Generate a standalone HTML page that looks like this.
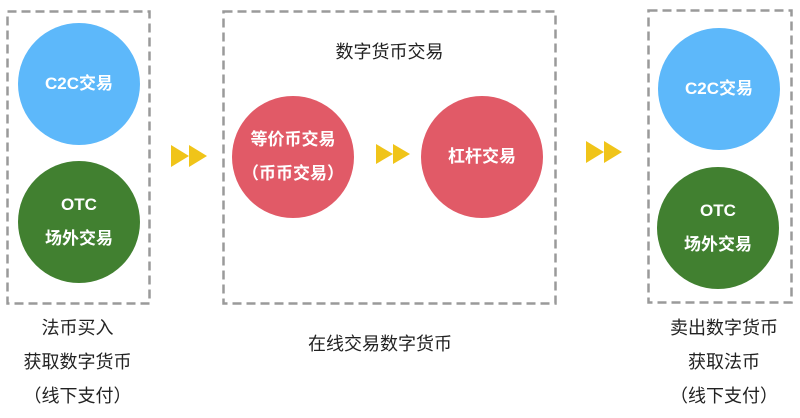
<!DOCTYPE html>
<html><head><meta charset="utf-8"><style>
body{margin:0;background:#fff;width:800px;height:418px;overflow:hidden;position:relative;font-family:"Liberation Sans","Noto Sans CJK SC",sans-serif;}
.c{position:absolute;width:122px;height:122px;border-radius:50%;color:#fff;display:flex;align-items:center;justify-content:center;text-align:center;font-size:17px;font-weight:bold;line-height:34px;}
.b{background:#5db8fa}.g{background:#418030}.r{background:#e15a67}
.t{position:absolute;text-align:center;font-size:18px;color:#222;line-height:34px;white-space:nowrap}
svg{position:absolute}
</style></head><body>
<svg width="800" height="418" style="left:0;top:0">
<g fill="none" stroke="#9a9a9a" stroke-width="2.5" stroke-dasharray="9 5">
<rect x="7.5" y="11.5" width="142" height="292"/>
<rect x="223.5" y="11.5" width="332" height="292"/>
<rect x="648.5" y="10.5" width="143" height="292"/>
</g>
<g fill="#f0c419">
<polygon points="171,145 189,156 171,167"/><polygon points="189,145 207,156 189,167"/>
<polygon points="376,144 393,154 376,164"/><polygon points="393,144 410,154 393,164"/>
<polygon points="586,141 604,152 586,163"/><polygon points="604,141 622,152 604,163"/>
</g></svg>
<div class="c b" style="left:18px;top:23px"><div>C2C交易</div></div>
<div class="c g" style="left:18px;top:161px"><div>OTC<br>场外交易</div></div>
<div class="c r" style="left:232px;top:96px"><div>等价币交易<br>（币币交易）</div></div>
<div class="c r" style="left:421px;top:96px"><div>杠杆交易</div></div>
<div class="c b" style="left:658px;top:28px"><div>C2C交易</div></div>
<div class="c g" style="left:657px;top:167px"><div>OTC<br>场外交易</div></div>
<div class="t" style="left:223px;width:333px;top:35px">数字货币交易</div>
<div class="t" style="left:0;width:155px;top:311px">法币买入<br>获取数字货币<br>（线下支付）</div>
<div class="t" style="left:280px;width:200px;top:327px">在线交易数字货币</div>
<div class="t" style="left:644px;width:160px;top:311px">卖出数字货币<br>获取法币<br>（线下支付）</div>
</body></html>
